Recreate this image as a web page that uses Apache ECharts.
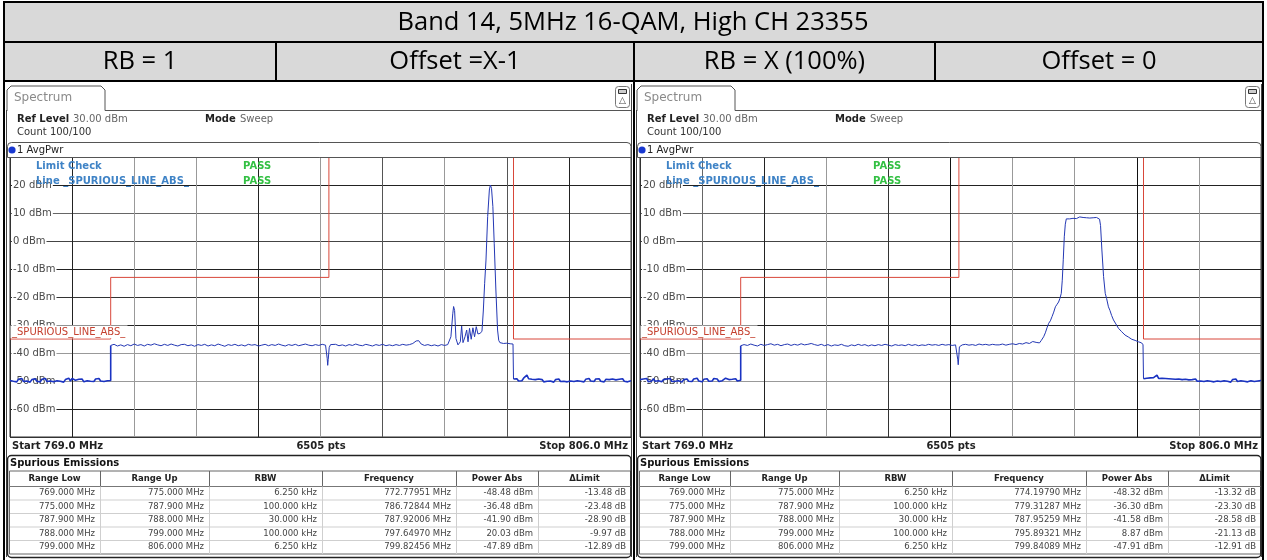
<!DOCTYPE html>
<html>
<head>
<meta charset="utf-8">
<script src="https://cdn.jsdelivr.net/npm/echarts@6.0.0/dist/echarts.min.js"></script>
<style>
html,body{margin:0;padding:0;background:#fff;}
#chart{width:1267px;height:560px;}
</style>
</head>
<body>
<div id="chart"></div>
<script>
// ---------------- data ----------------
const titleText = 'Band 14, 5MHz 16-QAM, High CH 23355';
const headerCells = ['RB = 1', 'Offset =X-1', 'RB = X (100%)', 'Offset = 0'];
const tabLabel = 'Spectrum';
const refLevelLabel = 'Ref Level';
const refLevelValue = '30.00 dBm';
const modeLabel = 'Mode';
const modeValue = 'Sweep';
const countText = 'Count 100/100';
const traceLabel = '1 AvgPwr';
const limitCheckLabels = ['Limit Check', 'Line _SPURIOUS_LINE_ABS_'];
const limitCheckResults = ['PASS', 'PASS'];
const limitLineName = '_SPURIOUS_LINE_ABS_';
const startText = 'Start 769.0 MHz';
const pointsText = '6505 pts';
const stopText = 'Stop 806.0 MHz';
const spurTitle = 'Spurious Emissions';
const spurColumns = ['Range Low', 'Range Up', 'RBW', 'Frequency', 'Power Abs', 'ΔLimit'];
const spurRowsRB1 = [
  ['769.000 MHz', '775.000 MHz', '6.250 kHz', '772.77951 MHz', '-48.48 dBm', '-13.48 dB'],
  ['775.000 MHz', '787.900 MHz', '100.000 kHz', '786.72844 MHz', '-36.48 dBm', '-23.48 dB'],
  ['787.900 MHz', '788.000 MHz', '30.000 kHz', '787.92006 MHz', '-41.90 dBm', '-28.90 dB'],
  ['788.000 MHz', '799.000 MHz', '100.000 kHz', '797.64970 MHz', '20.03 dBm', '-9.97 dB'],
  ['799.000 MHz', '806.000 MHz', '6.250 kHz', '799.82456 MHz', '-47.89 dBm', '-12.89 dB']
];
const spurRowsRBX = [
  ['769.000 MHz', '775.000 MHz', '6.250 kHz', '774.19790 MHz', '-48.32 dBm', '-13.32 dB'],
  ['775.000 MHz', '787.900 MHz', '100.000 kHz', '779.31287 MHz', '-36.30 dBm', '-23.30 dB'],
  ['787.900 MHz', '788.000 MHz', '30.000 kHz', '787.95259 MHz', '-41.58 dBm', '-28.58 dB'],
  ['788.000 MHz', '799.000 MHz', '100.000 kHz', '795.89321 MHz', '8.87 dBm', '-21.13 dB'],
  ['799.000 MHz', '806.000 MHz', '6.250 kHz', '799.84089 MHz', '-47.91 dBm', '-12.91 dB']
];
const freqMin = 769, freqMax = 806, freqStep = 3.7;
const levelMin = -70, levelMax = 30, levelStep = 10;
const limitFreq = [769, 775, 775, 788, 788, 799, 799, 806];
const limitLevel = [-35, -35, -13, -13, 30, 30, -35, -35];

// RB = 1 trace
const rb1Floor1 = [[769.0,-49.8],[769.1,-49.2],[769.2,-50.1],[769.3,-49.5],[769.4,-50.3],[769.5,-49.4],[769.6,-49.9],[769.7,-49.1],[769.8,-50.2],[769.9,-49.6],
[770.0,-50.0],[770.1,-49.3],[770.2,-50.4],[770.3,-49.5],[770.4,-49.9],[770.5,-49.2],[770.6,-50.1],[770.7,-49.6],[770.8,-50.3],[770.9,-49.4],
[771.0,-49.8],[771.1,-49.1],[771.2,-50.2],[771.3,-49.5],[771.4,-50.0],[771.5,-49.3],[771.6,-50.3],[771.7,-49.6],[771.8,-49.9],[771.9,-49.2],
[772.0,-50.1],[772.1,-49.4],[772.2,-50.4],[772.3,-49.5],[772.4,-49.8],[772.5,-49.0],[772.6,-50.0],[772.7,-49.1],[772.8,-48.5],[772.9,-49.7],
[773.0,-50.2],[773.1,-49.4],[773.2,-49.9],[773.3,-49.3],[773.4,-50.3],[773.5,-49.6],[773.6,-49.9],[773.7,-49.2],[773.8,-50.1],[773.9,-49.5],
[774.0,-50.2],[774.1,-49.3],[774.2,-49.8],[774.3,-49.1],[774.4,-50.0],[774.5,-49.4],[774.6,-50.2],[774.7,-49.6],[774.8,-49.9],[774.9,-49.3],[775.0,-49.8]];
const rb1Mid = [[775.0,-37.3],[775.2,-36.9],[775.4,-37.5],[775.6,-37.1],[775.8,-37.6],[776.0,-37.0],[776.2,-37.4],[776.4,-36.8],[776.6,-37.3],[776.8,-37.0],
[777.0,-37.5],[777.2,-36.9],[777.4,-37.2],[777.6,-36.7],[777.8,-37.1],[778.0,-37.4],[778.2,-36.9],[778.4,-37.3],[778.6,-36.8],[778.8,-37.2],
[779.0,-37.5],[779.2,-37.0],[779.4,-36.9],[779.6,-37.4],[779.8,-37.1],[780.0,-37.6],[780.2,-37.0],[780.4,-37.3],[780.6,-36.9],[780.8,-37.5],
[781.0,-37.1],[781.2,-37.4],[781.4,-36.8],[781.6,-37.2],[781.8,-37.6],[782.0,-37.0],[782.2,-37.3],[782.4,-36.9],[782.6,-37.4],[782.8,-37.1],
[783.0,-37.5],[783.2,-36.9],[783.4,-37.2],[783.6,-37.0],[783.8,-37.5],[784.0,-37.2],[784.2,-36.9],[784.4,-37.4],[784.6,-37.0],[784.8,-37.3],
[785.0,-36.8],[785.2,-37.2],[785.4,-37.5],[785.6,-37.0],[785.8,-37.3],[786.0,-36.9],[786.2,-37.4],[786.4,-37.1],[786.6,-36.8],[786.7,-36.5],
[786.8,-37.2],[787.0,-37.4],[787.2,-37.0],[787.4,-37.3],[787.6,-36.9],[787.8,-37.2],[787.86,-37.4],[787.9,-42.0],[787.93,-44.4],[787.96,-42.3],
[787.99,-42.5],[788.02,-38.0],[788.1,-37.0],[788.2,-37.3],[788.4,-36.9],[788.6,-37.4],[788.8,-37.1],[789.0,-37.5],[789.2,-37.0],[789.4,-37.3],
[789.6,-36.8],[789.8,-37.2],[790.0,-37.4],[790.2,-36.9],[790.4,-37.2],[790.6,-37.5],[790.8,-37.0],[791.0,-37.3],[791.2,-36.9],[791.4,-37.4],
[791.6,-37.1],[791.8,-37.4],[792.0,-37.0],[792.2,-37.3],[792.4,-36.9],[792.6,-37.2],[792.8,-37.0],[793.0,-36.6],[793.2,-35.7],[793.35,-35.6],
[793.5,-36.8],[793.7,-37.3],[793.9,-37.0],[794.1,-37.4],[794.3,-37.1],[794.5,-37.5],[794.7,-37.0],[794.9,-37.3],[795.08,-37.0]];
const rb1Carrier = [[795.27,-34.2],[795.38,-26.0],[795.43,-23.4],[795.49,-24.8],[795.57,-34.8],[795.69,-37.1],[795.83,-36.0],[795.91,-30.4],
[795.99,-36.3],[796.11,-34.2],[796.21,-31.8],[796.29,-36.0],[796.38,-31.2],[796.48,-35.1],[796.58,-31.0],[796.68,-34.2],[796.78,-30.6],
[796.88,-33.2],[797.0,-33.0],[797.12,-32.3],[797.2,-25.0],[797.28,-15.1],[797.36,-6.8],[797.46,8.7],[797.56,18.2],[797.62,20.0],
[797.69,18.8],[797.77,12.3],[797.85,-0.8],[797.95,-17.5],[798.05,-31.8],[798.12,-35.5],[798.19,-36.3],[798.3,-36.0],[798.4,-36.6],
[798.5,-36.2],[798.6,-36.5],[798.7,-36.1],[798.8,-36.7],[798.9,-36.4],[798.97,-36.8]];
const rb1Floor2 = [[799.0,-49.3],[799.1,-49.8],[799.2,-49.2],[799.3,-50.0],[799.4,-49.4],[799.5,-49.9],[799.6,-49.0],[799.7,-48.6],[799.8,-47.9],[799.9,-49.2],
[800.0,-49.9],[800.1,-49.4],[800.2,-50.1],[800.3,-49.5],[800.4,-50.2],[800.5,-49.3],[800.6,-49.9],[800.7,-49.5],[800.8,-50.3],[800.9,-49.6],
[801.0,-50.1],[801.1,-49.4],[801.2,-50.0],[801.3,-49.7],[801.4,-50.4],[801.5,-49.5],[801.6,-50.0],[801.7,-49.3],[801.8,-50.2],[801.9,-49.6],
[802.0,-50.1],[802.1,-49.4],[802.2,-50.3],[802.3,-49.7],[802.4,-50.0],[802.5,-49.3],[802.6,-50.2],[802.7,-49.5],[802.8,-49.9],[802.9,-49.2],
[803.0,-50.1],[803.1,-49.6],[803.2,-50.3],[803.3,-49.4],[803.4,-49.9],[803.5,-49.1],[803.6,-50.0],[803.7,-49.5],[803.8,-50.2],[803.9,-49.3],
[804.0,-49.8],[804.1,-49.2],[804.2,-50.1],[804.3,-49.6],[804.4,-50.3],[804.5,-49.4],[804.6,-49.9],[804.7,-49.5],[804.8,-50.2],[804.9,-49.3],
[805.0,-50.0],[805.1,-49.6],[805.2,-50.2],[805.3,-49.4],[805.4,-49.9],[805.5,-49.2],[805.6,-50.1],[805.7,-49.5],[805.8,-50.3],[805.9,-49.6],[806.0,-49.9]];

// RB = X (100%) trace
const rbxFloor1 = [[769.0,-49.5],[769.1,-50.2],[769.2,-49.3],[769.3,-49.9],[769.4,-49.1],[769.5,-50.3],[769.6,-49.6],[769.7,-50.0],[769.8,-49.2],[769.9,-50.1],
[770.0,-49.4],[770.1,-49.9],[770.2,-49.2],[770.3,-50.3],[770.4,-49.5],[770.5,-50.0],[770.6,-49.3],[770.7,-49.8],[770.8,-49.1],[770.9,-50.2],
[771.0,-49.6],[771.1,-50.1],[771.2,-49.4],[771.3,-49.9],[771.4,-49.2],[771.5,-50.4],[771.6,-49.5],[771.7,-49.9],[771.8,-49.3],[771.9,-50.1],
[772.0,-49.6],[772.1,-50.2],[772.2,-49.3],[772.3,-49.8],[772.4,-49.0],[772.5,-50.0],[772.6,-49.5],[772.7,-50.3],[772.8,-49.4],[772.9,-49.9],
[773.0,-49.2],[773.1,-50.1],[773.2,-49.6],[773.3,-50.0],[773.4,-49.1],[773.5,-49.8],[773.6,-49.3],[773.7,-50.2],[773.8,-49.5],[773.9,-49.9],
[774.0,-49.2],[774.1,-49.0],[774.2,-48.3],[774.3,-49.5],[774.4,-50.1],[774.5,-49.4],[774.6,-49.9],[774.7,-49.2],[774.8,-50.0],[774.9,-49.4],[775.0,-49.7]];
const rbxMid = [[775.0,-37.4],[775.2,-37.0],[775.4,-37.3],[775.6,-36.8],[775.8,-37.2],[776.0,-37.5],[776.2,-36.9],[776.4,-37.3],[776.6,-37.0],[776.8,-36.7],
[777.0,-37.2],[777.2,-36.9],[777.4,-37.4],[777.6,-37.0],[777.8,-36.8],[778.0,-37.3],[778.2,-36.9],[778.4,-37.2],[778.6,-36.7],[778.8,-37.1],
[779.0,-36.9],[779.2,-36.6],[779.3,-36.3],[779.4,-37.0],[779.6,-37.3],[779.8,-36.9],[780.0,-37.4],[780.2,-37.0],[780.4,-37.5],[780.6,-37.1],
[780.8,-37.3],[781.0,-36.9],[781.2,-37.4],[781.4,-37.6],[781.6,-37.1],[781.8,-37.4],[782.0,-36.9],[782.2,-37.3],[782.4,-37.0],[782.6,-37.5],
[782.8,-37.1],[783.0,-37.4],[783.2,-37.0],[783.4,-37.3],[783.6,-36.9],[783.8,-37.2],[784.0,-37.5],[784.2,-37.0],[784.4,-37.3],[784.6,-37.1],
[784.8,-37.4],[785.0,-36.9],[785.2,-37.3],[785.4,-37.0],[785.6,-37.4],[785.8,-37.1],[786.0,-37.3],[786.2,-36.9],[786.4,-37.2],[786.6,-37.0],
[786.8,-37.3],[787.0,-36.9],[787.2,-37.2],[787.4,-37.0],[787.6,-37.3],[787.8,-37.1],[787.9,-37.6],[787.93,-42.2],[787.96,-44.2],[787.99,-41.8],
[788.03,-37.8],[788.2,-37.1],[788.4,-36.9],[788.6,-37.2],[788.8,-37.0],[789.0,-37.3],[789.2,-36.8],[789.4,-37.1],[789.6,-36.9],[789.8,-37.2],
[790.0,-36.9],[790.2,-37.1]];
const rbxCarrier = [[790.4,-37.1],[790.6,-36.8],[790.8,-37.2],[791.0,-36.9],[791.2,-36.7],[791.4,-37.0],[791.6,-36.6],[791.8,-36.8],[792.0,-36.3],
[792.2,-36.6],[792.4,-35.9],[792.6,-36.2],[792.8,-36.4],[792.9,-35.6],[793.05,-34.2],[793.15,-32.8],[793.25,-31.0],[793.35,-29.4],[793.45,-28.5],
[793.55,-27.0],[793.65,-25.4],[793.75,-23.5],[793.85,-22.6],[793.94,-21.8],[794.02,-20.5],[794.1,-18.7],[794.16,-14.0],[794.22,-6.5],
[794.28,1.5],[794.34,6.0],[794.4,7.9],[794.5,8.3],[794.6,7.9],[794.7,8.4],[794.8,8.1],[794.9,8.5],[795.0,8.0],[795.1,8.3],[795.2,8.6],
[795.3,8.1],[795.4,8.4],[795.5,7.9],[795.6,8.3],[795.7,8.5],[795.8,8.2],[795.89,8.87],[796.0,8.3],[796.1,8.0],[796.2,8.4],[796.3,8.1],
[796.38,7.8],[796.44,5.5],[796.52,-3.2],[796.62,-12.7],[796.72,-18.7],[796.8,-20.5],[796.91,-23.5],[797.0,-24.8],[797.1,-26.6],[797.21,-28.2],
[797.35,-29.6],[797.51,-31.2],[797.7,-32.4],[797.9,-33.6],[798.1,-34.3],[798.3,-35.1],[798.5,-35.5],[798.7,-36.0],[798.85,-36.3],[798.97,-36.9]];
const rbxFloor2 = [[799.0,-49.2],[799.1,-49.6],[799.2,-49.0],[799.3,-49.5],[799.4,-48.9],[799.5,-49.4],[799.6,-48.8],[799.7,-49.3],[799.8,-47.9],[799.9,-49.1],
[800.0,-49.6],[800.1,-49.0],[800.2,-49.5],[800.3,-49.1],[800.4,-49.7],[800.5,-49.2],[800.6,-49.8],[800.7,-49.3],[800.8,-49.9],[800.9,-49.4],
[801.0,-50.0],[801.1,-49.3],[801.2,-49.8],[801.3,-49.5],[801.4,-50.1],[801.5,-49.4],[801.6,-49.9],[801.7,-49.6],[801.8,-50.2],[801.9,-49.5],
[802.0,-49.9],[802.1,-49.3],[802.2,-50.1],[802.3,-49.6],[802.4,-50.0],[802.5,-49.4],[802.6,-50.2],[802.7,-49.7],[802.8,-49.9],[802.9,-49.3],
[803.0,-50.1],[803.1,-49.5],[803.2,-50.3],[803.3,-49.6],[803.4,-50.0],[803.5,-49.4],[803.6,-50.2],[803.7,-49.5],[803.8,-49.9],[803.9,-49.2],
[804.0,-50.1],[804.1,-49.6],[804.2,-50.4],[804.3,-49.5],[804.4,-50.0],[804.5,-49.3],[804.6,-50.2],[804.7,-49.6],[804.8,-49.9],[804.9,-49.2],
[805.0,-50.1],[805.1,-49.5],[805.2,-50.3],[805.3,-49.6],[805.4,-49.9],[805.5,-49.4],[805.6,-50.2],[805.7,-49.5],[805.8,-50.0],[805.9,-49.3],[806.0,-49.8]];

// ---------------- layout / drawing ----------------
const limitData = limitFreq.map((f, i) => [f, limitLevel[i]]);

const FF = '"DejaVu Sans", Verdana, sans-serif';
const g = [];
function R(x, y, w, h, fill, stroke, lw, z, r) {
  g.push({type: 'rect', silent: true, z: z || 1, shape: {x: x, y: y, width: w, height: h, r: r || 0},
    style: {fill: fill || 'none', stroke: stroke || 'none', lineWidth: lw || 1}});
}
function L(x1, y1, x2, y2, stroke, lw, z) {
  g.push({type: 'line', silent: true, z: z || 1, shape: {x1: x1, y1: y1, x2: x2, y2: y2},
    style: {stroke: stroke, lineWidth: lw || 1}});
}
function P(points, stroke, lw, z) {
  g.push({type: 'polyline', silent: true, z: z || 1, shape: {points: points},
    style: {stroke: stroke, fill: null, lineWidth: lw || 1}});
}
function T(x, y, text, font, fill, align, z) {
  g.push({type: 'text', silent: true, z: z || 20, x: x, y: y,
    style: {text: text, font: font, fill: fill, align: align || 'left', verticalAlign: 'middle',
            textAlign: align || 'left', textVerticalAlign: 'middle'}});
}
function C(cx, cy, r, fill, z) {
  g.push({type: 'circle', silent: true, z: z || 20, shape: {cx: cx, cy: cy, r: r}, style: {fill: fill}});
}

// top header table
R(4, 2, 1259, 79, '#d9d9d9', null, 1, 0);
const black = '#000';
L(4, 2, 1263, 2, black, 2, 3);
L(4, 42, 1263, 42, black, 2, 3);
L(4, 81, 1263, 81, black, 2, 3);
L(4, 1, 4, 560, black, 2, 3);
L(1263, 1, 1263, 560, black, 2, 3);
L(276, 42, 276, 81, black, 2, 3);
L(634, 42, 634, 560, black, 2, 3);
L(935, 42, 935, 81, black, 2, 3);
const TITLE_FONT = '25.5px "Open Sans", sans-serif';
T(633, 23, titleText, TITLE_FONT, '#000', 'center', 20);
const cellCenters = [140, 455, 784.5, 1099];
headerCells.forEach((t, i) => T(cellCenters[i], 62, t, TITLE_FONT, '#000', 'center', 20));

const colEdges = [9, 100, 209, 322, 456, 538, 631];
const rowEdges = [486.5, 500, 513.5, 527, 540.5, 554];

function panel(ox, rows) {
  // tab + frame
  P([[ox + 7, 111], [ox + 7, 90], [ox + 11, 86], [ox + 101, 86], [ox + 105, 90], [ox + 105, 110.5], [ox + 631, 110.5]], '#555', 1, 5);
  T(ox + 14, 98, tabLabel, '12px ' + FF, '#8a8a8a', 'left', 20);
  L(ox + 6.5, 110, ox + 6.5, 557, '#444', 1, 5);
  L(ox + 631.5, 84, ox + 631.5, 557, '#444', 1, 5);
  // icon
  R(ox + 615.5, 86.5, 14, 21, '#fff', '#777', 1, 5, 3);
  R(ox + 618.5, 89.5, 8, 4, '#ccc', '#333', 1, 6, 0);
  T(ox + 622.5, 100.5, '△', '9px ' + FF, '#444', 'center', 20);
  // info
  T(ox + 17, 119, refLevelLabel, 'bold 10px ' + FF, '#222');
  T(ox + 73, 119, refLevelValue, '10px ' + FF, '#666');
  T(ox + 205, 119, modeLabel, 'bold 10px ' + FF, '#222');
  T(ox + 240, 119, modeValue, '10px ' + FF, '#666');
  T(ox + 17, 132, countText, '10px ' + FF, '#333');
  // trace header
  g.push({type: 'rect', silent: true, z: 5, shape: {x: ox + 7.5, y: 142.5, width: 623.5, height: 15, r: [4, 4, 0, 0]},
    style: {fill: '#fff', stroke: '#555', lineWidth: 1}});
  C(ox + 12, 150, 3.6, '#1838d0', 20);
  T(ox + 17, 150, traceLabel, '10px ' + FF, '#222');
  // limit check texts
  T(ox + 36, 166, limitCheckLabels[0], 'bold 10px ' + FF, '#3f83c6', 'left', 60);
  T(ox + 36, 181, limitCheckLabels[1], 'bold 10px ' + FF, '#3f83c6', 'left', 60);
  T(ox + 243, 166, limitCheckResults[0], 'bold 10px ' + FF, '#33c043', 'left', 60);
  T(ox + 243, 181, limitCheckResults[1], 'bold 10px ' + FF, '#33c043', 'left', 60);
  // limit line label
  R(ox + 10.5, 325.6, 117, 12.6, '#fff', null, 1, 50);
  T(ox + 12, 332.5, limitLineName, '10px ' + FF, '#c5402f', 'left', 51);
  // bottom info
  T(ox + 12, 446, startText, 'bold 10px ' + FF, '#222');
  T(ox + 321, 446, pointsText, 'bold 10px ' + FF, '#222', 'center');
  T(ox + 628, 446, stopText, 'bold 10px ' + FF, '#222', 'right');
  // spurious table
  R(ox + 7.5, 455.5, 623.5, 102, 'none', '#222', 1.5, 6, 4);
  T(ox + 10, 463, spurTitle, 'bold 10px ' + FF, '#111');
  R(ox + 9.5, 471, 621, 83, '#fff', '#666', 1, 5, 0);
  L(ox + 9.5, 486.5, ox + 630.5, 486.5, '#777', 1, 6);
  for (let k = 1; k < rowEdges.length - 1; k++) L(ox + 10, rowEdges[k], ox + 630, rowEdges[k], '#cfcfcf', 1, 6);
  for (let c = 1; c < colEdges.length - 1; c++) {
    L(ox + colEdges[c] + 0.5, 471, ox + colEdges[c] + 0.5, 486.5, '#666', 1, 6);
    L(ox + colEdges[c] + 0.5, 486.5, ox + colEdges[c] + 0.5, 554, '#cfcfcf', 1, 6);
  }
  spurColumns.forEach((t, c) => T(ox + (colEdges[c] + colEdges[c + 1]) / 2, 479, t, 'bold 8.5px ' + FF, '#222', 'center'));
  rows.forEach((row, r) => {
    const cy = (rowEdges[r] + rowEdges[r + 1]) / 2;
    row.forEach((t, c) => T(ox + colEdges[c + 1] - 5, cy, t, '8.5px ' + FF, '#444', 'right'));
  });
}
panel(0, spurRowsRB1);
panel(630, spurRowsRBX);

const xColorsL = ['#333', '#222', '#999', '#999', '#222', '#999', '#555', '#999', '#555', '#222', '#333'];
const xColorsR = ['#333', '#666', '#222', '#999', '#333', '#111', '#999', '#999', '#111', '#999', '#333'];
const yColors = ['#333', '#222', '#999', '#999', '#222', '#333', '#222', '#444', '#666', '#222', '#333'];

function mkX(i, colors) {
  return {type: 'value', gridIndex: i, min: freqMin, max: freqMax, interval: freqStep,
    axisLine: {show: false}, axisTick: {show: false}, axisLabel: {show: false},
    splitLine: {show: true, lineStyle: {color: colors, width: 1}}};
}
function mkY(i) {
  return {type: 'value', gridIndex: i, min: levelMin, max: levelMax, interval: levelStep,
    axisLine: {show: false}, axisTick: {show: false},
    axisLabel: {inside: true, margin: 2, fontSize: 10, fontFamily: 'DejaVu Sans', color: '#4a4a4a',
      showMinLabel: false, showMaxLabel: false, backgroundColor: '#fff', padding: [0, 1, 0, 1],
      formatter: v => v + ' dBm'},
    splitLine: {show: true, lineStyle: {color: yColors, width: 1}}};
}
function lineSeries(i, data, color, width, z) {
  return {type: 'line', xAxisIndex: i, yAxisIndex: i, data: data, symbol: 'none', showSymbol: false,
    lineStyle: {color: color, width: width}, z: z, clip: false, silent: true, animation: false};
}
function traceSeries(i, floor1, mid, carrier, floor2) {
  const floorColor = '#1a33c2', mainColor = '#2438b4';
  return [
    lineSeries(i, floor1.concat([mid[0]]), floorColor, 1.6, 3),
    lineSeries(i, mid.concat(carrier, [floor2[0]]), mainColor, 1, 3),
    lineSeries(i, floor2, floorColor, 1.6, 3)
  ];
}

const chart = echarts.init(document.getElementById('chart'), null, {renderer: 'canvas'});
chart.setOption({
  animation: false,
  backgroundColor: '#fff',
  grid: [
    {left: 10, top: 157, width: 621, height: 280, show: true, borderColor: '#333', borderWidth: 1, backgroundColor: 'transparent', outerBoundsMode: 'none'},
    {left: 640, top: 157, width: 621, height: 280, show: true, borderColor: '#333', borderWidth: 1, backgroundColor: 'transparent', outerBoundsMode: 'none'}
  ],
  xAxis: [mkX(0, xColorsL), mkX(1, xColorsR)],
  yAxis: [mkY(0), mkY(1)],
  series: [lineSeries(0, limitData, '#d8473a', 1, 2)]
    .concat(traceSeries(0, rb1Floor1, rb1Mid, rb1Carrier, rb1Floor2))
    .concat([lineSeries(1, limitData, '#d8473a', 1, 2)])
    .concat(traceSeries(1, rbxFloor1, rbxMid, rbxCarrier, rbxFloor2)),
  graphic: {elements: g}
});
</script>
</body>
</html>
